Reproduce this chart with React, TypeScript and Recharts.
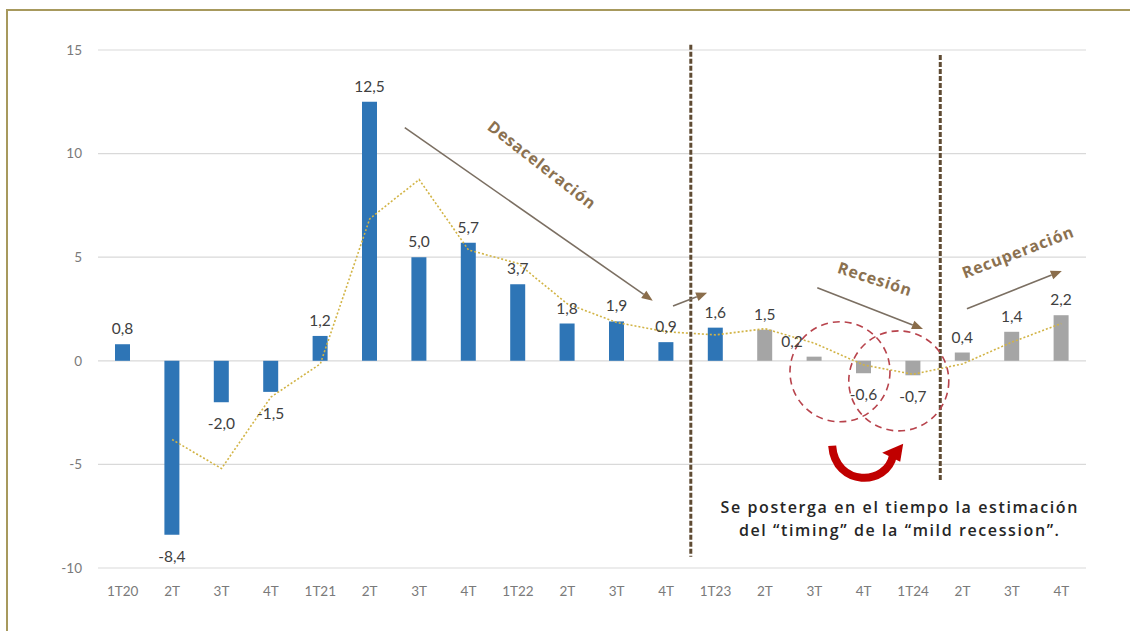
import {
  ComposedChart,
  Bar,
  Line,
  XAxis,
  YAxis,
  CartesianGrid,
  Cell,
  LabelList,
  ReferenceLine,
  ReferenceDot,
} from "recharts";

// quarterly GDP growth, % y/y
const quarters = [
  "1T20", "2T", "3T", "4T",
  "1T21", "2T", "3T", "4T",
  "1T22", "2T", "3T", "4T",
  "1T23", "2T", "3T", "4T",
  "1T24", "2T", "3T", "4T",
];
const growth = [
  0.8, -8.4, -2.0, -1.5,
  1.2, 12.5, 5.0, 5.7,
  3.7, 1.8, 1.9, 0.9,
  1.6, 1.5, 0.2, -0.6,
  -0.7, 0.4, 1.4, 2.2,
];
// dotted trend line
const trend = [
  null, -3.8, -5.2, -1.75,
  -0.15, 6.85, 8.75, 5.35,
  4.7, 2.75, 1.85, 1.4,
  1.25, 1.55, 0.85, -0.2,
  -0.65, -0.15, 0.9, 1.8,
];
const yTicks = [-10, -5, 0, 5, 10, 15];
const FIRST_FORECAST = 13;

const data = quarters.map((q, i) => ({
  idx: i,
  quarter: q,
  growth: growth[i],
  trend: trend[i],
}));

const BLUE = "#2e75b6";
const GREY = "#a5a5a5";
const ARROW = "#7b6f62";
const TAG = "#8b7150";
const WIDE = "'Open Sans', 'Noto Sans', sans-serif";

const fmt = (v: number) => v.toFixed(1).replace(".", ",");

const barLabel = (p: any) => {
  const { x, y, width, height, value, index } = p;
  const top = Math.min(y, y + height);
  const bottom = Math.max(y, y + height);
  let cx = x + width / 2;
  if (index === 14) cx -= 22;
  const cy = value >= 0 ? top - 16 : bottom + 21;
  return (
    <text
      x={cx}
      y={cy}
      textAnchor="middle"
      dominantBaseline="central"
      style={{ fontFamily: "Lato", fontSize: 15.5 }}
      fill="#404040"
    >
      {fmt(value)}
    </text>
  );
};

const arrowShape = (p: any) => {
  const { x1, y1, x2, y2 } = p;
  const a = Math.atan2(y2 - y1, x2 - x1);
  const len = 11;
  const half = 4.5;
  const bx = x2 - len * Math.cos(a);
  const by = y2 - len * Math.sin(a);
  const p1 = `${bx + half * Math.sin(a)},${by - half * Math.cos(a)}`;
  const p2 = `${bx - half * Math.sin(a)},${by + half * Math.cos(a)}`;
  return (
    <g>
      <line x1={x1} y1={y1} x2={bx} y2={by} stroke={ARROW} strokeWidth={1.6} />
      <polygon points={`${x2},${y2} ${p1} ${p2}`} fill="#8a6d4b" />
    </g>
  );
};

const dividerShape = (p: any) => (
  <line
    x1={p.x1}
    y1={p.y1}
    x2={p.x2}
    y2={p.y2}
    stroke="#5f4b33"
    strokeWidth={3}
    strokeDasharray="5 2"
  />
);

const tag = (text: string, angle: number) => (p: any) => (
  <text
    x={p.cx}
    y={p.cy}
    transform={`rotate(${angle} ${p.cx} ${p.cy})`}
    textAnchor="middle"
    dominantBaseline="central"
    style={{ fontFamily: WIDE, fontWeight: 700, fontSize: 16, letterSpacing: 0.8 }}
    fill={TAG}
  >
    {text}
  </text>
);

const note = (text: string) => (p: any) => (
  <text
    x={p.cx}
    y={p.cy}
    textAnchor="middle"
    dominantBaseline="central"
    style={{ fontFamily: WIDE, fontWeight: 600, fontSize: 16, letterSpacing: 1.6 }}
    fill="#262626"
  >
    {text}
  </text>
);

const ring = (p: any) => (
  <circle
    cx={p.cx}
    cy={p.cy}
    r={50}
    fill="none"
    stroke="#b8434c"
    strokeWidth={1.6}
    strokeDasharray="7 5"
  />
);

// red U-turn arrow under the recession circles
const uTurn = (p: any) => {
  const { cx, cy } = p;
  return (
    <g transform={`translate(${cx},${cy})`}>
      <path
        d="M -33 -13 C -30 28, 22 28, 28 -4"
        fill="none"
        stroke="#c00000"
        strokeWidth={8}
      />
      <polygon points="38,-15 17,-6 35,3" fill="#c00000" />
    </g>
  );
};

export default function App() {
  return (
    <div
      style={{
        position: "absolute",
        left: 0,
        top: 0,
        width: 1130,
        height: 631,
        background: "#fff",
        overflow: "hidden",
      }}
    >
      <div
        style={{
          position: "absolute",
          left: 6,
          top: 9,
          width: 1140,
          height: 640,
          borderTop: "2px solid #a7995d",
          borderLeft: "2px solid #a7995d",
        }}
      />
      <div style={{ position: "absolute", left: 0, top: 0 }}>
        <ComposedChart
          width={1130}
          height={631}
          data={data}
          margin={{ top: 50, right: 44, bottom: 33, left: 38 }}
        >
          <CartesianGrid vertical={false} stroke="#d9d9d9" strokeWidth={1.2} />
          <XAxis
            dataKey="idx"
            type="number"
            domain={[-0.5, 19.5]}
            ticks={data.map((d) => d.idx)}
            tickFormatter={(i: number) => quarters[i]}
            interval={0}
            axisLine={false}
            tickLine={false}
            tickSize={0}
            tickMargin={18}
            height={30}
            tick={{ fontFamily: "Lato", fontSize: 13.5, fill: "#7a7a7a" }}
          />
          <YAxis
            domain={[-10, 15]}
            ticks={yTicks}
            axisLine={false}
            tickLine={false}
            tickSize={0}
            tickMargin={16}
            width={60}
            tick={{ fontFamily: "Lato", fontSize: 13.5, fill: "#7a7a7a" }}
          />
          <Bar dataKey="growth" barSize={15} isAnimationActive={false}>
            {data.map((d) => (
              <Cell key={d.idx} fill={d.idx < FIRST_FORECAST ? BLUE : GREY} />
            ))}
            <LabelList dataKey="growth" content={barLabel} />
          </Bar>
          <Line
            dataKey="trend"
            type="linear"
            stroke="#d2b446"
            strokeWidth={1.6}
            strokeDasharray="2 2"
            dot={false}
            connectNulls={false}
            isAnimationActive={false}
          />

          <ReferenceLine
            segment={[{ x: 11.5, y: 15.25 }, { x: 11.5, y: -9.46 }]}
            shape={dividerShape}
            ifOverflow="visible"
          />
          <ReferenceLine
            segment={[{ x: 16.55, y: 14.76 }, { x: 16.55, y: -5.84 }]}
            shape={dividerShape}
            ifOverflow="visible"
          />

          <ReferenceLine
            segment={[{ x: 5.71, y: 11.25 }, { x: 10.73, y: 2.9 }]}
            shape={arrowShape}
            ifOverflow="visible"
          />
          <ReferenceLine
            segment={[{ x: 11.14, y: 2.65 }, { x: 11.83, y: 3.28 }]}
            shape={arrowShape}
            ifOverflow="visible"
          />
          <ReferenceLine
            segment={[{ x: 14.06, y: 3.52 }, { x: 16.2, y: 1.54 }]}
            shape={arrowShape}
            ifOverflow="visible"
          />
          <ReferenceLine
            segment={[{ x: 17.09, y: 2.51 }, { x: 19.01, y: 4.34 }]}
            shape={arrowShape}
            ifOverflow="visible"
          />

          <ReferenceDot x={8.49} y={9.46} shape={tag("Desaceleración", 38)} ifOverflow="visible" />
          <ReferenceDot x={15.23} y={3.96} shape={tag("Recesión", 18)} ifOverflow="visible" />
          <ReferenceDot x={18.12} y={5.26} shape={tag("Recuperación", -21)} ifOverflow="visible" />

          <ReferenceDot x={14.52} y={-0.53} shape={ring} ifOverflow="visible" />
          <ReferenceDot x={15.71} y={-0.97} shape={ring} ifOverflow="visible" />
          <ReferenceDot x={15.03} y={-4.73} shape={uTurn} ifOverflow="visible" />

          <ReferenceDot
            x={15.73}
            y={-7.05}
            shape={note("Se posterga en el tiempo la estimación")}
            ifOverflow="visible"
          />
          <ReferenceDot
            x={15.73}
            y={-8.16}
            shape={note("del “timing” de la “mild recession”.")}
            ifOverflow="visible"
          />
        </ComposedChart>
      </div>
    </div>
  );
}
